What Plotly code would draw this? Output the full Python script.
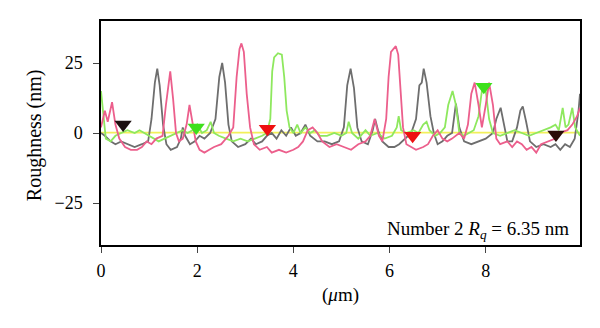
import plotly.graph_objects as go

# ---- data ----
gray_x = [0.00, 0.08, 0.2, 0.3, 0.42, 0.55, 0.7, 0.85, 0.98, 1.05, 1.12, 1.17, 1.22, 1.29, 1.36, 1.45, 1.58, 1.66, 1.7, 1.75,
          1.85, 1.95, 2.05, 2.15, 2.27, 2.38, 2.46, 2.52, 2.58, 2.65, 2.72, 2.85, 3.0, 3.12, 3.22, 3.35, 3.45, 3.55, 3.65, 3.75,
          3.85, 3.95, 4.05, 4.15, 4.25, 4.35, 4.5, 4.65, 4.8, 4.95, 5.05, 5.12, 5.19, 5.26, 5.33, 5.42, 5.55, 5.65, 5.7, 5.76,
          5.85, 5.98, 6.1, 6.2, 6.32, 6.45, 6.55, 6.62, 6.67, 6.71, 6.77, 6.85, 6.92, 7.0, 7.1, 7.2, 7.3, 7.38, 7.45, 7.55,
          7.7, 7.85, 8.0, 8.15, 8.22, 8.31, 8.38, 8.45, 8.55, 8.65, 8.72, 8.77, 8.84, 8.92, 9.05, 9.2, 9.35, 9.45, 9.55, 9.65,
          9.75, 9.85, 9.93, 9.96]
gray_y = [0, -1, -3, -4, -3, -4, -5, -4, -3, 5, 18, 23, 17, 3, -4, -6, -5, -2, 2, -1,
          -4, -3, -1, -2, 0, 5, 20, 25, 18, 3, -3, -5, -4, -2, -4, -3, -1, 0, -2, 1,
          -1, 2, -1, 0, 3, -1, -3, -3, -4, -3, 2, 17, 23, 16, 2, -3, -4, 1, 5, 1,
          -3, -5, -5, -4, -2, 0, 5, 17, 18, 23, 18, 6, 0, -4, -3, -1, 0, 10.5, 2, -3,
          -4, -3, -2, 0, 5, 9, 3, -3, -3, 2, 8, 9.5, 4, -3, -5, -4, -5, -4, -6, -4,
          -5, -2, 8, 14]

pink_x = [0.0, 0.08, 0.14, 0.23, 0.3, 0.38, 0.5, 0.62, 0.75, 0.85, 0.95, 1.05, 1.15, 1.28, 1.35, 1.44, 1.5, 1.56, 1.62, 1.7,
          1.78, 1.84, 1.9, 1.97, 2.05, 2.15, 2.25, 2.35, 2.5, 2.65, 2.75, 2.82, 2.88, 2.92, 2.97, 3.03, 3.1, 3.18, 3.3, 3.45,
          3.55, 3.7, 3.85, 4.0, 4.1, 4.2, 4.3, 4.4, 4.5, 4.6, 4.75, 4.9, 5.05, 5.2, 5.35, 5.5, 5.6, 5.69, 5.78, 5.85,
          5.93, 5.98, 6.03, 6.08, 6.13, 6.18, 6.23, 6.28, 6.35, 6.45, 6.55, 6.7, 6.8, 6.9, 7.0, 7.1, 7.2, 7.3, 7.45, 7.55,
          7.63, 7.7, 7.77, 7.85, 7.92, 8.0, 8.07, 8.15, 8.22, 8.3, 8.45, 8.55, 8.65, 8.75, 8.85, 8.95, 9.05, 9.15, 9.3, 9.45,
          9.55, 9.7, 9.8, 9.9, 9.96]
pink_y = [2, 8, 4, 11, 3, -2, -5, -6, -6, -5, -3, -4, -2, -1, 10, 22, 12, 0, -3, -2,
          3, 10, 4, -3, -6, -7, -6, -5, -4, -1, 2, 20, 30, 32, 29, 14, 2, -4, -6, -5,
          -7, -6, -7, -6, -5, -3, 1, 2, 0, -3, -5, -4, -5, -6, -4, -3, -1, 5, -1, -3,
          5, 20, 29, 30, 31, 28, 15, 2, -4, -5, -6, -5, -4, -1, 1, -2, -3, -2, 0, -2,
          3, 14, 18, 10, 2, 10, 18, 10, -2, -4, -3, -5, -3, -4, -6, -5, -7, -4, -3, -2,
          0, 1, 3, 6, 9]

green_x = [0.0, 0.04, 0.1, 0.2, 0.3, 0.42, 0.55, 0.7, 0.8, 0.9, 1.0, 1.1, 1.2, 1.32, 1.45, 1.6, 1.7, 1.8, 1.9, 2.0,
           2.1, 2.2, 2.28, 2.35, 2.45, 2.6, 2.75, 2.9, 3.05, 3.2, 3.35, 3.45, 3.52, 3.56, 3.6, 3.68, 3.76, 3.81, 3.86, 3.92,
           4.0, 4.08, 4.15, 4.25, 4.35, 4.45, 4.55, 4.7, 4.85, 5.0, 5.1, 5.15, 5.22, 5.35, 5.5, 5.6, 5.75, 5.9, 6.05, 6.15,
           6.19, 6.24, 6.35, 6.5, 6.6, 6.7, 6.77, 6.83, 6.95, 7.05, 7.15, 7.22, 7.31, 7.38, 7.45, 7.55, 7.65, 7.75, 7.85, 7.92,
           7.96, 8.0, 8.07, 8.15, 8.3, 8.45, 8.6, 8.75, 8.9, 9.05, 9.2, 9.35, 9.45, 9.52, 9.6, 9.66, 9.72, 9.8, 9.86, 9.92,
           9.96]
green_y = [15, 8, -2, -3, -1, 0, 1, 0, 1, 0, -1, -2, -3, -2, -1, 0, 1, 0, 1, 3,
           0, 1, 4, 0, -1, -2, -3, -2, -3, -2, -1, 0, 5, 22, 27, 28.5, 28, 20, 8, 2,
           0, 3, 0, 2, 0, 1, -1, -1, 0, -1, 0, 4, 0, -2, 1, -1, 0, -2, -1, 2,
           6, 1, 0, 1, 0, 3, 4, 1, -1, 0, 2, 10, 15, 10, 0, -1, 0, 1, 6, 15,
           17, 15, 5, 0, -1, 0, 1, 0, -1, 0, 1, 2, 3, 1, 9, 2, 3, 9, 2, 0,
           -1]

yellow_x = [0.0, 9.96]
yellow_y = [0.1, 0.1]

marker_x = [0.46, 1.98, 3.46, 6.48, 7.96, 9.46]
marker_y = [3.0, 2.0, 1.5, -1.0, 16.5, -0.5]
marker_colors = ["#1c1010", "#3ee01c", "#ee1010", "#ee1010", "#3ee01c", "#2a0c08"]

x_ticks = [0, 2, 4, 6, 8]
y_ticks = [-25, 0, 25]
x_range = [0, 9.96]
y_range = [-40, 40]

FONT = "Liberation Serif"
FS = 18

fig = go.Figure()
fig.add_trace(go.Scatter(x=yellow_x, y=yellow_y, mode="lines",
                         line=dict(color="#f2f05a", width=1.7), hoverinfo="skip"))
fig.add_trace(go.Scatter(x=gray_x, y=gray_y, mode="lines",
                         line=dict(color="#6e6e6e", width=1.8)))
fig.add_trace(go.Scatter(x=green_x, y=green_y, mode="lines",
                         line=dict(color="#8ee85e", width=1.8)))
fig.add_trace(go.Scatter(x=pink_x, y=pink_y, mode="lines",
                         line=dict(color="#ec5f8c", width=1.8)))
fig.add_trace(go.Scatter(x=marker_x, y=marker_y, mode="markers",
                         marker=dict(symbol="triangle-down", size=15, color=marker_colors,
                                     line=dict(width=0))))

fig.update_layout(
    width=600, height=328,
    margin=dict(l=101, r=20, t=21, b=83),
    paper_bgcolor="white", plot_bgcolor="white",
    showlegend=False,
    font=dict(family=FONT, size=FS, color="black"),
    xaxis=dict(range=x_range, tickvals=x_ticks, ticks="outside", ticklen=6, tickwidth=1.3,
               showline=True, linecolor="black", linewidth=1.5, mirror=True,
               showgrid=False, zeroline=False, ticklabelstandoff=3,
               tickfont=dict(family=FONT, size=FS, color="black")),
    yaxis=dict(range=y_range, tickvals=y_ticks, ticks="outside", ticklen=6, tickwidth=1.3,
               showline=True, linecolor="black", linewidth=1.5, mirror=True,
               showgrid=False, zeroline=False, ticklabelstandoff=7,
               tickfont=dict(family=FONT, size=FS, color="black")),
    annotations=[
        dict(text="Roughness (nm)", xref="paper", yref="paper", x=-0.14, y=0.49,
             textangle=-90, showarrow=False, xanchor="center", yanchor="middle",
             font=dict(family=FONT, size=20, color="black")),
        dict(text="(<i>μ</i>m)", xref="paper", yref="paper", x=0.5, y=-0.225,
             showarrow=False, xanchor="center", yanchor="middle",
             font=dict(family=FONT, size=19, color="black")),
        dict(text="Number 2 <i>R</i><sub><i>q</i></sub> = 6.35 nm", xref="paper", yref="paper",
             x=0.982, y=0.065, showarrow=False, xanchor="right", yanchor="middle",
             font=dict(family=FONT, size=19, color="black")),
    ],
)

fig.write_html("out.html")
